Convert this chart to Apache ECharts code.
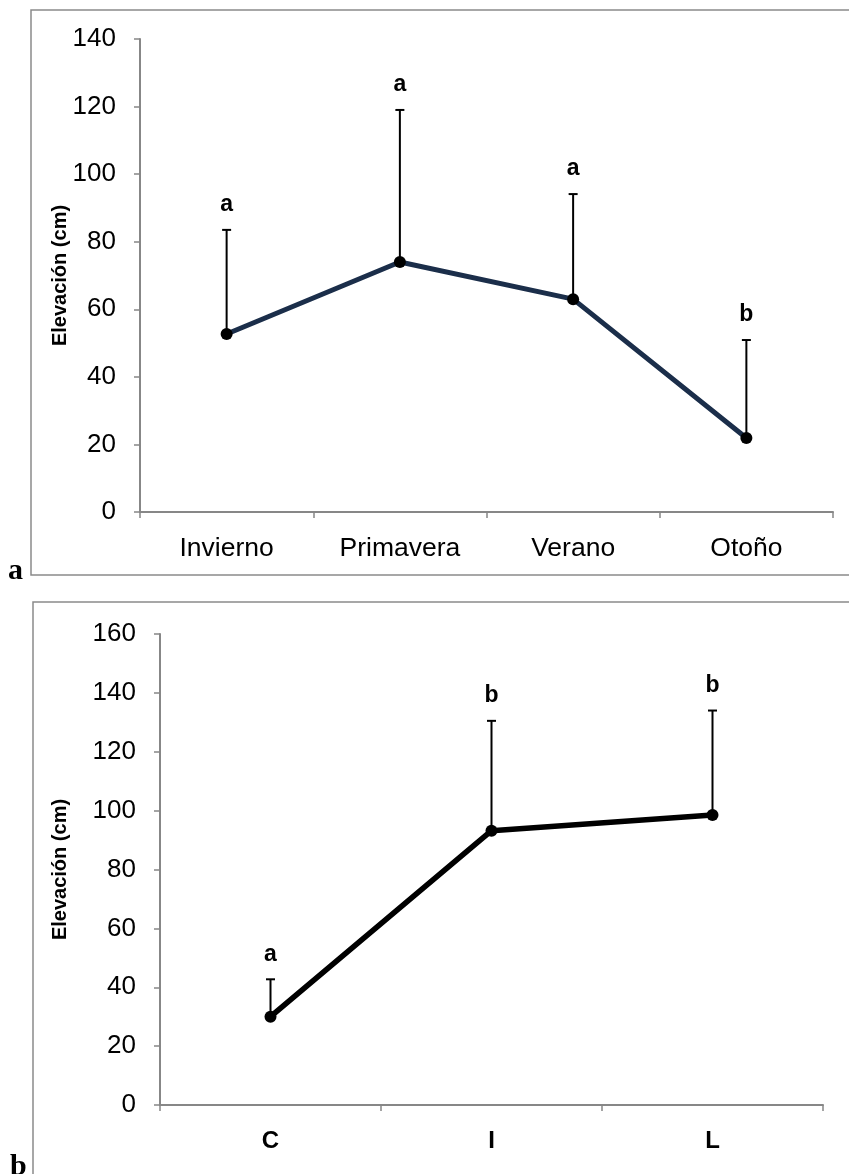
<!DOCTYPE html>
<html>
<head>
<meta charset="utf-8">
<title>Elevación (cm)</title>
<script src="https://cdn.jsdelivr.net/npm/echarts@6/dist/echarts.min.js"></script>
<style>
  html, body { margin: 0; padding: 0; background: #fff; }
  #chart { width: 849px; height: 1174px; }
</style>
</head>
<body>
<div id="chart"></div>
<script>
// Panel a: elevation by season (mean with upper error bar and group letter)
const seasons = ['Invierno', 'Primavera', 'Verano', 'Otoño'];
const seasonMean = [52.7, 74.0, 63.0, 21.9];
const seasonUpper = [83.5, 119.0, 94.1, 50.9];
const seasonLetters = ['a', 'a', 'a', 'b'];
const seasonTicks = [0, 20, 40, 60, 80, 100, 120, 140];

// Panel b: elevation by site
const sites = ['C', 'I', 'L'];
const siteMean = [30.0, 93.2, 98.5];
const siteUpper = [42.7, 130.5, 134.0];
const siteLetters = ['a', 'b', 'b'];
const siteTicks = [0, 20, 40, 60, 80, 100, 120, 140, 160];

const FONT = 'Liberation Sans, Arial, sans-serif';
const AXIS_GREY = '#878787';

function yAxisFor(gridIndex, ticks, nameGap) {
  return {
    type: 'value',
    gridIndex: gridIndex,
    min: ticks[0],
    max: ticks[ticks.length - 1],
    interval: ticks[1] - ticks[0],
    name: 'Elevación (cm)',
    nameLocation: 'middle',
    nameRotate: 90,
    nameGap: nameGap,
    nameMoveOverlap: false,
    nameTextStyle: { fontFamily: FONT, fontWeight: 'bold', fontSize: 20, color: '#000' },
    axisLine: { show: true, lineStyle: { color: AXIS_GREY, width: 2 } },
    axisTick: { show: true, length: 6, lineStyle: { color: AXIS_GREY, width: 1.5 } },
    axisLabel: { fontFamily: FONT, fontSize: 26, color: '#000', margin: 24 },
    splitLine: { show: false }
  };
}

function xAxisFor(gridIndex, cats, bold) {
  return {
    type: 'category',
    gridIndex: gridIndex,
    data: cats,
    boundaryGap: true,
    axisLine: { show: true, lineStyle: { color: AXIS_GREY, width: 2 } },
    axisTick: { show: true, length: 6, alignWithLabel: false, lineStyle: { color: AXIS_GREY, width: 1.5 } },
    axisLabel: { fontFamily: FONT, fontSize: bold ? 24 : 26.5, fontWeight: bold ? 'bold' : 'normal', color: '#000', margin: bold ? 24 : 23 },
    splitLine: { show: false }
  };
}

// Upper error bar (stem + cap) with the significance letter above it
function errorBarSeries(axisIndex, means, uppers, letters) {
  return {
    type: 'custom',
    xAxisIndex: axisIndex,
    yAxisIndex: axisIndex,
    z: 1,
    data: means.map((m, i) => [i, m, uppers[i], letters[i]]),
    renderItem: function (params, api) {
      const base = api.coord([api.value(0), api.value(1)]);
      const top = api.coord([api.value(0), api.value(2)]);
      const half = 4.5;
      return {
        type: 'group',
        children: [
          { type: 'line', shape: { x1: base[0], y1: base[1], x2: top[0], y2: top[1] },
            style: { stroke: '#000', lineWidth: 2 } },
          { type: 'line', shape: { x1: top[0] - half, y1: top[1], x2: top[0] + half, y2: top[1] },
            style: { stroke: '#000', lineWidth: 2 } },
          { type: 'text', x: top[0], y: top[1] - 25,
            style: { text: letters[params.dataIndex], fontFamily: FONT, fontWeight: 'bold', fontSize: 23,
                     fill: '#000', align: 'center', verticalAlign: 'middle' } }
        ]
      };
    }
  };
}

function meanLineSeries(axisIndex, means, color, width) {
  return {
    type: 'line',
    xAxisIndex: axisIndex,
    yAxisIndex: axisIndex,
    z: 3,
    data: means,
    symbol: 'circle',
    symbolSize: 12,
    itemStyle: { color: '#000' },
    lineStyle: { color: color, width: width },
    animation: false
  };
}

const chart = echarts.init(document.getElementById('chart'), null, { renderer: 'canvas' });

chart.setOption({
  animation: false,
  backgroundColor: '#fff',
  grid: [
    { left: 140, right: 16, top: 39, bottom: 662 },
    { left: 160, right: 26, top: 634, bottom: 69 }
  ],
  xAxis: [xAxisFor(0, seasons, false), xAxisFor(1, sites, true)],
  yAxis: [yAxisFor(0, seasonTicks, 70), yAxisFor(1, siteTicks, 90)],
  series: [
    errorBarSeries(0, seasonMean, seasonUpper, seasonLetters),
    meanLineSeries(0, seasonMean, '#1B2E4A', 5),
    errorBarSeries(1, siteMean, siteUpper, siteLetters),
    meanLineSeries(1, siteMean, '#000', 5.5)
  ],
  graphic: [
    // frame of panel a (open on the right)
    { type: 'polyline', silent: true,
      shape: { points: [[852, 10], [31, 10], [31, 575], [852, 575]] },
      style: { stroke: '#8a8a8a', lineWidth: 1.5, fill: null } },
    // frame of panel b (open on the right and bottom)
    { type: 'polyline', silent: true,
      shape: { points: [[852, 602], [33, 602], [33, 1180]] },
      style: { stroke: '#8a8a8a', lineWidth: 1.5, fill: null } },
    { type: 'text', left: 8, top: 556,
      style: { text: 'a', fontFamily: 'Liberation Serif, Times New Roman, serif', fontWeight: 'bold', fontSize: 30, fill: '#000' } },
    { type: 'text', left: 10, top: 1152,
      style: { text: 'b', fontFamily: 'Liberation Serif, Times New Roman, serif', fontWeight: 'bold', fontSize: 30, fill: '#000' } }
  ]
});
</script>
</body>
</html>
